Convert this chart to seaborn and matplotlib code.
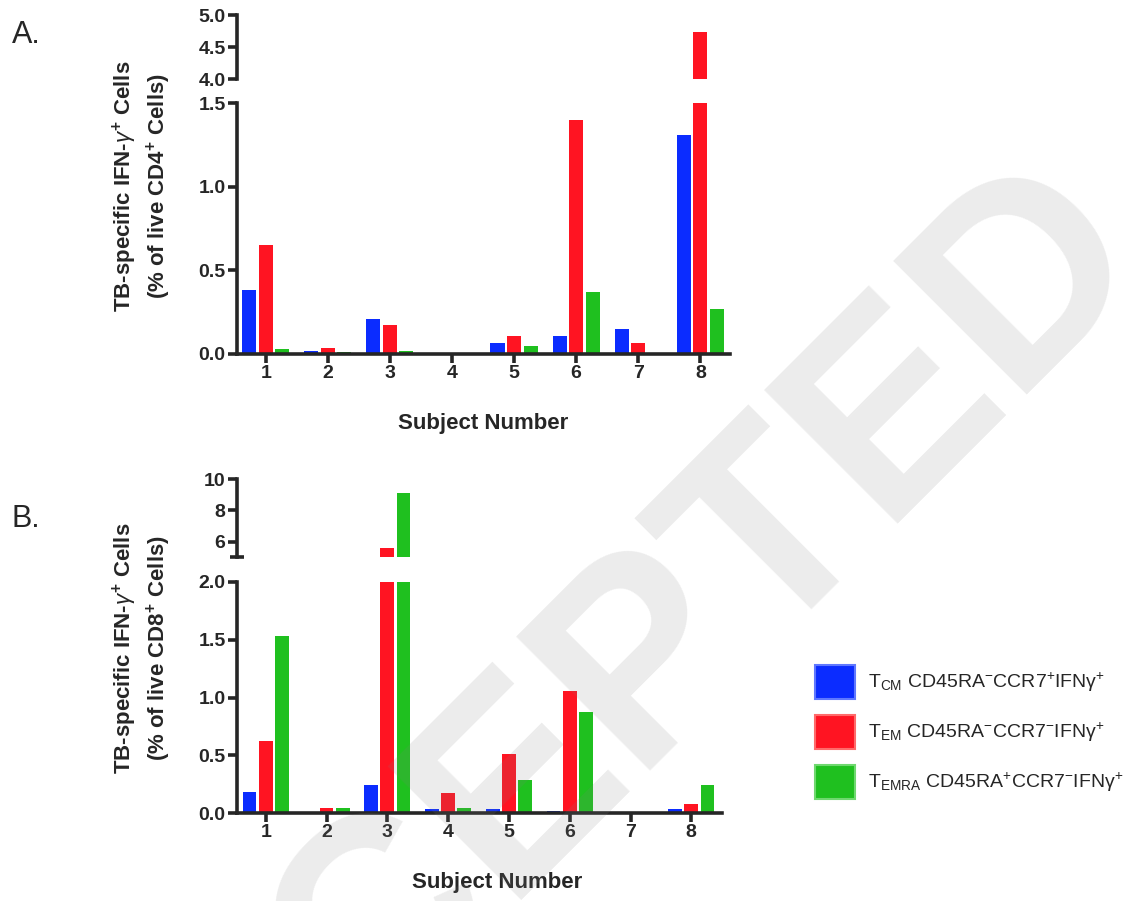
import matplotlib
matplotlib.use("Agg")
import matplotlib.pyplot as plt
import matplotlib.patches as mpatches
import pandas as pd
import seaborn as sns

# values (% of live cells)
subjects = ["1", "2", "3", "4", "5", "6", "7", "8"]
subsets = ["TCM", "TEM", "TEMRA"]

cd4_tcm = [0.38, 0.02, 0.21, 0.0, 0.066, 0.11, 0.15, 1.31]
cd4_tem = [0.65, 0.038, 0.173, 0.0, 0.106, 1.40, 0.066, 4.73]
cd4_temra = [0.028, 0.012, 0.018, 0.0, 0.05, 0.369, 0.0, 0.27]

cd8_tcm = [0.187, 0.0, 0.242, 0.04, 0.04, 0.02, 0.0, 0.04]
cd8_tem = [0.627, 0.048, 5.6, 0.178, 0.51, 1.058, 0.0, 0.078]
cd8_temra = [1.53, 0.048, 9.1, 0.045, 0.288, 0.877, 0.0, 0.247]

legend_labels = [
    r"T$_{\mathrm{CM}}$ CD45RA$^{-}$CCR7$^{+}$IFNγ$^{+}$",
    r"T$_{\mathrm{EM}}$ CD45RA$^{-}$CCR7$^{-}$IFNγ$^{+}$",
    r"T$_{\mathrm{EMRA}}$ CD45RA$^{+}$CCR7$^{-}$IFNγ$^{+}$",
]
colors = ["#0b2cff", "#ff1422", "#1fc01f"]
edge_colors = ["#5f78ff", "#ff6a6a", "#6fd86f"]

sns.set_style("ticks")
plt.rcParams["font.family"] = ["Liberation Sans", "DejaVu Sans"]
plt.rcParams["mathtext.fontset"] = "custom"
plt.rcParams["mathtext.rm"] = "Liberation Sans"
plt.rcParams["mathtext.it"] = "Liberation Sans:italic"
plt.rcParams["mathtext.bf"] = "Liberation Sans:bold"

W, H = 1134, 901


def table(tcm, tem, temra):
    rows = []
    for name, vals in zip(subsets, [tcm, tem, temra]):
        for s, v in zip(subjects, vals):
            rows.append({"Subject": s, "Subset": name, "Value": v})
    return pd.DataFrame(rows)


def px_rect(x0, x1, ytop, ybot):
    return [x0 / W, 1 - ybot / H, (x1 - x0) / W, (ybot - ytop) / H]


def bars(ax, df):
    sns.barplot(data=df, x="Subject", y="Value", hue="Subset",
                order=subjects, hue_order=subsets, palette=colors,
                width=0.8, gap=0.15, saturation=1, errorbar=None,
                legend=False, linewidth=0, ax=ax)


def style_axis(ax):
    for sp in ax.spines.values():
        sp.set_linewidth(2.6)
    ax.tick_params(axis="both", which="major", width=2.6, length=6.5,
                   labelsize=14, pad=1.5)
    for lab in ax.get_yticklabels() + ax.get_xticklabels():
        lab.set_fontweight("bold")


def panel(df, x1, rows, xlim, up_lim, up_ticks, up_labels, low_lim, low_ticks,
          up_cap=None, label_x=0.5):
    (ut, ub), (lt, lb) = rows
    ax_up = fig.add_axes(px_rect(236.7, x1, ut, ub))
    ax_lo = fig.add_axes(px_rect(236.7, x1, lt, lb))

    bars(ax_up, df)
    bars(ax_lo, df)

    ax_up.set_ylim(*up_lim)
    ax_up.set_xlim(*xlim)
    ax_up.set_yticks(up_ticks)
    ax_up.set_yticklabels(up_labels)
    ax_up.spines[["top", "right", "bottom"]].set_visible(False)
    ax_up.tick_params(axis="x", which="both", bottom=False, labelbottom=False)
    ax_up.set_xlabel("")
    ax_up.set_ylabel("")
    style_axis(ax_up)
    if up_cap is not None:
        ax_up.set_yticks([up_cap], minor=True)
        ax_up.tick_params(axis="y", which="minor", direction="inout",
                          length=10, width=2.6)

    ax_lo.set_ylim(*low_lim)
    ax_lo.set_xlim(*xlim)
    ax_lo.set_yticks(low_ticks)
    ax_lo.set_yticklabels([f"{t:.1f}" for t in low_ticks])
    ax_lo.set_yticks([low_lim[1]], minor=True)
    ax_lo.tick_params(axis="y", which="minor", direction="inout",
                      length=9, width=2.6)
    ax_lo.tick_params(axis="x", length=8)
    sns.despine(ax=ax_lo)
    ax_lo.set_ylabel("")
    ax_lo.set_xlabel("Subject Number", fontsize=16, fontweight="bold",
                     labelpad=22)
    ax_lo.xaxis.label.set_x(label_x)
    style_axis(ax_lo)
    return ax_up, ax_lo


fig = plt.figure(figsize=(W / 100, H / 100), dpi=100)

df4 = table(cd4_tcm, cd4_tem, cd4_temra)
df8 = table(cd8_tcm, cd8_tem, cd8_temra)

panel(df4, 730, [(15, 79), (103, 354)], (-0.467, 7.477),
      (4.0, 5.0), [4.0, 4.5, 5.0], ["4.0", "4.5", "5.0"],
      (0, 1.5), [0, 0.5, 1.0, 1.5])

panel(df8, 721.7, [(479, 557.3), (581.7, 813.3)], (-0.477, 7.5),
      (5.0, 10.0), [6, 8, 10], ["6", "8", "10"],
      (0, 2.0), [0, 0.5, 1.0, 1.5, 2.0], up_cap=5.0, label_x=0.537)

# y labels, centred on each broken axis pair
fig.text(142 / W, 1 - 186 / H,
         "TB-specific IFN-$\\gamma^{\\mathbf{+}}$ Cells\n(% of live CD4$^{\\mathbf{+}}$ Cells)",
         rotation=90, ha="center", va="center", fontsize=16,
         fontweight="bold", multialignment="center", linespacing=1.25)
fig.text(142 / W, 1 - 648 / H,
         "TB-specific IFN-$\\gamma^{\\mathbf{+}}$ Cells\n(% of live CD8$^{\\mathbf{+}}$ Cells)",
         rotation=90, ha="center", va="center", fontsize=16,
         fontweight="bold", multialignment="center", linespacing=1.25)

fig.text(12 / W, 1 - 43 / H, "A.", fontsize=22, va="baseline")
fig.text(12 / W, 1 - 527 / H, "B.", fontsize=22, va="baseline")

handles = [mpatches.Patch(facecolor=c, edgecolor=e, linewidth=1.5)
           for c, e in zip(colors, edge_colors)]
fig.legend(handles, legend_labels, loc="upper left",
           bbox_to_anchor=(815 / W, 1 - 665 / H), frameon=False,
           fontsize=14, handlelength=2.06, handleheight=2.28,
           handletextpad=0.67, labelspacing=0.85, borderpad=0,
           borderaxespad=0)

# watermark over everything
fig.text(620 / W, 1 - 795 / H, "ACCEPTED", rotation=45, rotation_mode="anchor",
         ha="center", va="baseline", fontsize=197, fontweight="bold",
         color="0.5", alpha=0.15, zorder=10)

fig.savefig("out.png", dpi=100)
plt.close("all")
